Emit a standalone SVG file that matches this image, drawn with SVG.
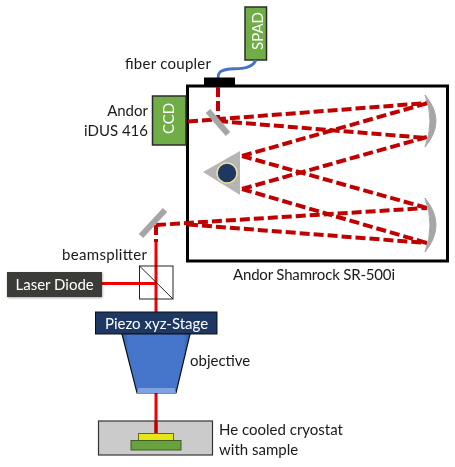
<svg xmlns="http://www.w3.org/2000/svg" width="455" height="467" viewBox="0 0 455 467">
<defs>
<linearGradient id="obj" x1="0" y1="0" x2="1" y2="0"><stop offset="0" stop-color="#2f5fa8"/><stop offset=".1" stop-color="#4576cc"/><stop offset=".9" stop-color="#4576cc"/><stop offset="1" stop-color="#2f5fa8"/></linearGradient>
<filter id="sh" x="-20%" y="-20%" width="140%" height="140%"><feDropShadow dx="0.5" dy="1" stdDeviation="1" flood-color="#000" flood-opacity=".35"/></filter>
<filter id="soft" filterUnits="userSpaceOnUse" x="0" y="0" width="455" height="467"><feGaussianBlur stdDeviation="0.4"/></filter>
<style>
text{font-family:Lato,"Liberation Sans",sans-serif;font-size:15px;fill:#1a1a1a}
.w{fill:#fff}
.green{fill:#70ad47;stroke:#2b2b2b;stroke-width:1.5}
.dash{fill:none;stroke:#c00000;stroke-width:4;stroke-dasharray:10 4}
.solid{fill:none;stroke:#f00000;stroke-width:3}
.mirror{fill:none;stroke:#a6a6a6;stroke-width:6;stroke-linecap:butt}
</style>
</defs>
<rect width="455" height="467" fill="#fff"/>
<g filter="url(#soft)">
<g id="spectrometer"><rect x="187.500" y="86" width="260" height="175" fill="#fff" stroke="#000" stroke-width="3"/>
<text x="233" y="280" textLength="162">Andor Shamrock SR-500i</text></g>
<g id="spad"><rect class="green" x="245" y="7" width="21.500" height="53"/><text class="w" transform="translate(263,50) rotate(-90)">SPAD</text></g>
<g id="fiber-coupler"><path d="M256 60C249 74 228 65 220 72Q218 74 218 78" fill="none" stroke="#4472c4" stroke-width="2.800"/><rect x="204" y="77.500" width="31" height="9" fill="#000"/><text x="125" y="69" textLength="86">fiber coupler</text></g>
<g id="ccd"><rect class="green" x="152.500" y="96" width="33.500" height="49"/><text class="w" transform="translate(174,134) rotate(-90)">CCD</text><text x="148" y="116" text-anchor="end">Andor</text><text x="148" y="136" text-anchor="end">iDUS 416</text></g>
<g id="connectors">
<path class="dash" d="M218 87V119"/>
<path class="dash" d="M188 121.500L428 103"/>
<path class="dash" d="M218 121L427 138"/>
<path class="dash" d="M242 156L428 103"/>
<path class="dash" d="M242 156L427 208"/>
<path class="dash" d="M242 189L427 137"/>
<path class="dash" d="M242 189L427 243"/>
<path class="dash" d="M156 225L427 208"/>
<path class="dash" d="M188 224.500L427 243"/>
<path class="dash" d="M156 225V242"/>
<path class="solid" d="M156 242V312"/>
<path class="solid" d="M102 283.500H156"/>
<path class="solid" d="M156 393V422"/>
</g>
<g id="mirror-fold"><path class="mirror" d="M208 111L228 134"/></g>
<g id="mirror-input"><path class="mirror" d="M141 236L165 210"/></g>
<g id="mirror-top"><path d="M425 95Q447 121 425 147Q435 121 425 95Z" fill="#a6a6a6" stroke="#a6a6a6" stroke-width="1" stroke-linejoin="round"/></g>
<g id="mirror-bottom"><path d="M425 198Q447 225 425 252Q435 225 425 198Z" fill="#a6a6a6" stroke="#a6a6a6" stroke-width="1" stroke-linejoin="round"/></g>
<g id="prism"><path d="M203 172L240 151V195Z" fill="#b5b5b5"/><circle cx="227" cy="173" r="10" fill="#1f3864" stroke="#f0dc9a" stroke-width="1.500"/></g>
<g id="beamsplitter"><rect x="139.500" y="266" width="33.500" height="33" fill="none" stroke="#222" stroke-width="1"/><path d="M139.500 266L173 299" stroke="#222" stroke-width="1"/><text x="62" y="260" textLength="85">beamsplitter</text></g>
<g id="laser-diode"><rect x="7" y="272" width="95" height="25" fill="#3b3a38" filter="url(#sh)"/><text class="w" x="15.500" y="290">Laser Diode</text></g>
<g id="piezo"><rect x="95.500" y="312" width="121.500" height="22" fill="#1f3864" stroke="#111" stroke-width="1"/><text class="w" x="105" y="329">Piezo xyz-Stage</text></g>
<g id="objective"><path d="M122 334H190L176 393H137Z" fill="url(#obj)" stroke="#111" stroke-width="1.200"/><path d="M138.500 388H174.500L176 393H137Z" fill="#7ea3e0"/><text x="190" y="366">objective</text></g>
<g id="cryostat"><rect x="98.500" y="421" width="114" height="34" fill="#cbcbcb" stroke="#333" stroke-width="1.200"/><path d="M156 421V433" stroke="#c00000" stroke-width="3.500"/><rect x="138.500" y="433.500" width="35" height="7" fill="#e6e619" stroke="#6b6b10" stroke-width="1"/><rect x="131" y="440.500" width="50" height="9.500" fill="#6aa13f" stroke="#3c5d24" stroke-width="1"/><text x="219" y="435">He cooled cryostat</text><text x="219" y="455">with sample</text></g>
</g>
</svg>
